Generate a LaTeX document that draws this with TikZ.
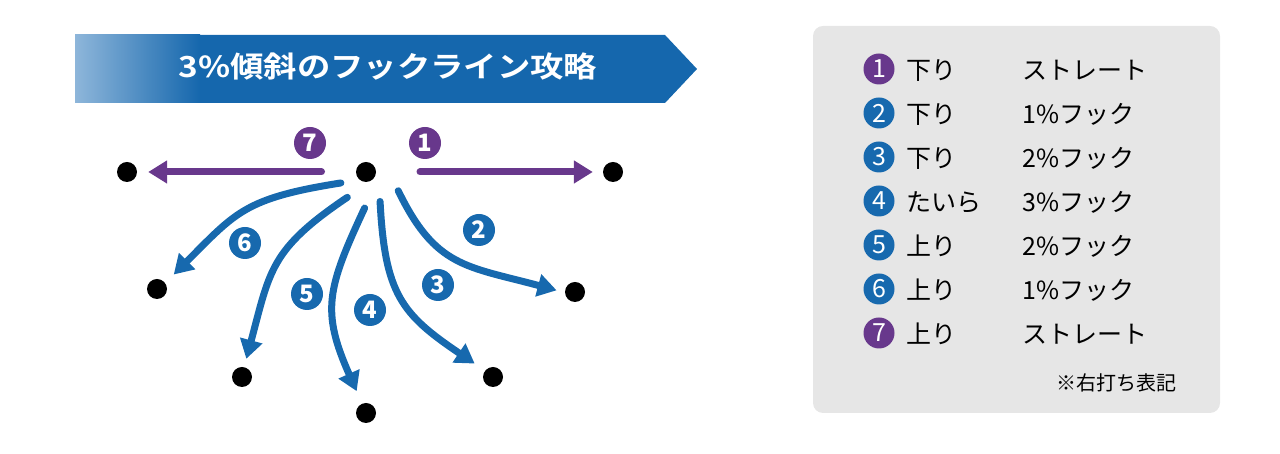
\documentclass[tikz,border=0pt]{standalone}
\usepackage{fontspec}
\setmainfont{Noto Sans CJK JP}
\newfontfamily\titlefont{Noto Sans CJK JP Bold}[FakeStretch=1.15]
\usetikzlibrary{arrows.meta}

\definecolor{hookblue}{HTML}{1769AE}
\definecolor{hookpurple}{HTML}{68388C}
\definecolor{bannerlight}{HTML}{8EB6DA}
\definecolor{bannerdark}{HTML}{1567AD}
\definecolor{panelgray}{HTML}{E6E6E6}

\begin{document}
\begin{tikzpicture}[
		x=1pt, y=1pt,
		cup/.style={circle, fill=black, minimum size=20pt, inner sep=0pt},
		putt/.style={line width=7pt, line cap=round, looseness=1.25, -{Triangle[length=19pt, width=22pt]}},
		num/.style={circle, fill=#1, text=white, minimum size=32pt, inner sep=0pt, font=\bfseries\fontsize{24}{24}\selectfont},
		legnum/.style={circle, fill=#1, text=white, minimum size=31pt, inner sep=0pt, font=\fontsize{25}{25}\selectfont},
		legtext/.style={anchor=west, inner sep=0pt, text height=22pt, text depth=3pt, font=\fontsize{25}{25}\selectfont},
	]
		\useasboundingbox (0,0) rectangle (1280,454);
		
		% title banner
		\fill[bannerdark] (75,351) -- (665,351) -- (697,385) -- (665,419) -- (75,419) -- cycle;
		\shade[left color=bannerlight, right color=bannerdark] (75,351) rectangle (200,419);
		\node at (388,387) (title) [text=white, font=\titlefont\fontsize{29}{29}\selectfont] {3\%傾斜のフックライン攻略};
		
		% cups
		\node at (366,282) (c) [cup, outer sep=15pt] {};
		\node at (127,282) (d7) [cup] {};
		\node at (613,282) (d1) [cup] {};
		\node at (575,162) (d2) [cup] {};
		\node at (493,77) (d3) [cup] {};
		\node at (366,41) (d4) [cup] {};
		\node at (242,77) (d5) [cup] {};
		\node at (157,165) (d6) [cup] {};
		
		% putt lines
		\draw[putt, hookpurple, shorten <=19.5pt, shorten >=11pt] (c.180) -- (d7.east);
		\draw[putt, hookpurple, shorten <=29pt, shorten >=10pt] (c.0) -- (d1.west);
		\draw[putt, hookblue, shorten <=2.5pt, shorten >=12pt] (c.205) to[out=189, in=45] (d6.36);
		\draw[putt, hookblue, shorten <=7pt, shorten >=8.5pt] (c.239) to[out=214, in=75] (d5.78);
		\draw[putt, hookblue, shorten <=12.5pt, shorten >=13.5pt] (c.279) to[out=245, in=114] (d4.112);
		\draw[putt, hookblue, shorten <=8.5pt, shorten >=12.5pt] (c.303) to[out=273, in=146] (d3.141);
		\draw[putt, hookblue, shorten <=17pt, shorten >=8.5pt] (c.352) to[out=296, in=165] (d2.183);
		
		\node at (310,311) (n7) [num=hookpurple] {7};
		\node at (425,311) (n1) [num=hookpurple] {1};
		\node at (479,224) (n2) [num=hookblue] {2};
		\node at (438,169) (n3) [num=hookblue] {3};
		\node at (370,144) (n4) [num=hookblue] {4};
		\node at (307,160) (n5) [num=hookblue] {5};
		\node at (245,211) (n6) [num=hookblue] {6};
		
		% legend
		\node at (1016.5,234.5) (panel) [fill=panelgray, rounded corners=10pt, minimum width=407pt, minimum height=387pt] {};
		\node at (879,385) (k1) [legnum=hookpurple] {1};
		\node at (906,384) (a1) [legtext] {下り};
		\node at (1022,384) (b1) [legtext] {ストレート};
		\node at (879,341) (k2) [legnum=hookblue] {2};
		\node at (906,340) (a2) [legtext] {下り};
		\node at (1022,340) (b2) [legtext] {1\%フック};
		\node at (879,297) (k3) [legnum=hookblue] {3};
		\node at (906,296) (a3) [legtext] {下り};
		\node at (1022,296) (b3) [legtext] {2\%フック};
		\node at (879,253) (k4) [legnum=hookblue] {4};
		\node at (906,252) (a4) [legtext] {たいら};
		\node at (1022,252) (b4) [legtext] {3\%フック};
		\node at (879,209) (k5) [legnum=hookblue] {5};
		\node at (906,208) (a5) [legtext] {上り};
		\node at (1022,208) (b5) [legtext] {2\%フック};
		\node at (879,165) (k6) [legnum=hookblue] {6};
		\node at (906,164) (a6) [legtext] {上り};
		\node at (1022,164) (b6) [legtext] {1\%フック};
		\node at (879,121) (k7) [legnum=hookpurple] {7};
		\node at (906,120) (a7) [legtext] {上り};
		\node at (1022,120) (b7) [legtext] {ストレート};
		\node at (1180,71) (note) [anchor=east, font=\fontsize{20}{20}\selectfont] {※右打ち表記};
	\end{tikzpicture}
\end{document}
